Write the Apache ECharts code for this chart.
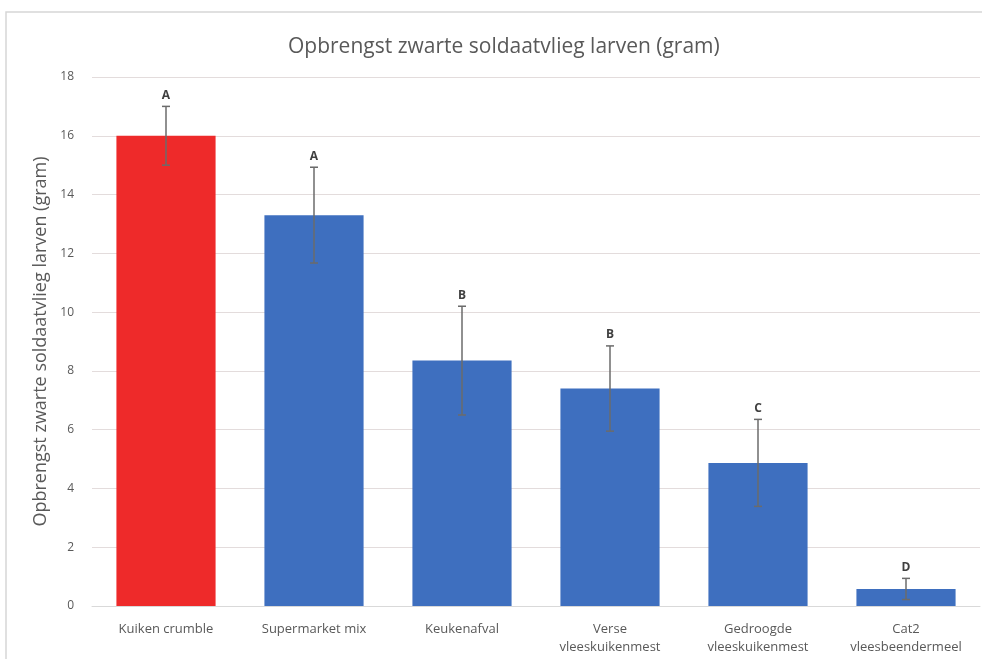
<!DOCTYPE html>
<html><head><meta charset="utf-8">
<script src="https://cdn.jsdelivr.net/npm/echarts@6/dist/echarts.min.js"></script>
<style>html,body{margin:0;padding:0;background:#fff}#c{width:982px;height:659px}</style>
</head><body><div id="c"></div>
<script>
const categories = ['Kuiken crumble','Supermarket mix','Keukenafval','Verse\nvleeskuikenmest','Gedroogde\nvleeskuikenmest','Cat2\nvleesbeendermeel'];
const values = [16.0, 13.3, 8.35, 7.4, 4.87, 0.58];
const errors = [1.0, 1.63, 1.85, 1.45, 1.48, 0.36];
const letters = ['A','A','B','B','C','D'];
const barColors = ['#ee2a2a','#3e6fbf','#3e6fbf','#3e6fbf','#3e6fbf','#3e6fbf'];
const yTicks = [0,2,4,6,8,10,12,14,16,18];

const chart = echarts.init(document.getElementById('c'));
const font = '"Open Sans", "Liberation Sans", sans-serif';
chart.setOption({
  animation:false,
  textStyle:{fontFamily:font},
  graphic:[{type:'rect',shape:{x:6,y:12,width:990,height:660},style:{fill:'none',stroke:'#d6d6d6',lineWidth:1.5},silent:true}],
  title:{text:'Opbrengst zwarte soldaatvlieg larven (gram)',left:283,top:32,
    textStyle:{fontFamily:font,fontSize:21,fontWeight:'normal',color:'#595959'}},
  grid:{left:92,right:2,top:77,bottom:53},
  xAxis:{type:'category',data:categories,
    axisLine:{lineStyle:{color:'#d9d9d9'}},axisTick:{show:false},
    axisLabel:{color:'#595959',fontSize:13,interval:0,margin:14,lineHeight:18}},
  yAxis:{type:'value',min:0,max:18,interval:2,
    name:'Opbrengst zwarte soldaatvlieg larven (gram)',nameLocation:'middle',nameGap:40,
    nameTextStyle:{color:'#595959',fontSize:18},
    axisLabel:{color:'#595959',fontSize:12,margin:18,formatter:function(v){return yTicks.indexOf(v)>=0?String(v):'';}},
    splitLine:{lineStyle:{color:'#e3dcdc'}},
    axisLine:{show:false}},
  series:[
    {type:'bar',barWidth:'67%',data:values.map((v,i)=>({value:v,itemStyle:{color:barColors[i]}}))},
    {type:'custom',data:values.map((v,i)=>[i,v,errors[i]]),z:5,
     renderItem:function(params,api){
       const i=api.value(0),v=api.value(1),e=api.value(2);
       const top=api.coord([i,v+e]), bot=api.coord([i,v-e]);
       const x=top[0], w=4;
       return {type:'group',children:[
         {type:'line',shape:{x1:x,y1:top[1],x2:x,y2:bot[1]},style:{stroke:'#6b6b6b',lineWidth:1.5}},
         {type:'line',shape:{x1:x-w,y1:top[1],x2:x+w,y2:top[1]},style:{stroke:'#6b6b6b',lineWidth:1.5}},
         {type:'line',shape:{x1:x-w,y1:bot[1],x2:x+w,y2:bot[1]},style:{stroke:'#6b6b6b',lineWidth:1.5}},
         {type:'text',style:{text:letters[params.dataIndex],x:x,y:top[1]-5,align:'center',verticalAlign:'bottom',
           fill:'#404040',font:'bold 12px '+font}}
       ]};
     }}
  ]
});
</script></body></html>
